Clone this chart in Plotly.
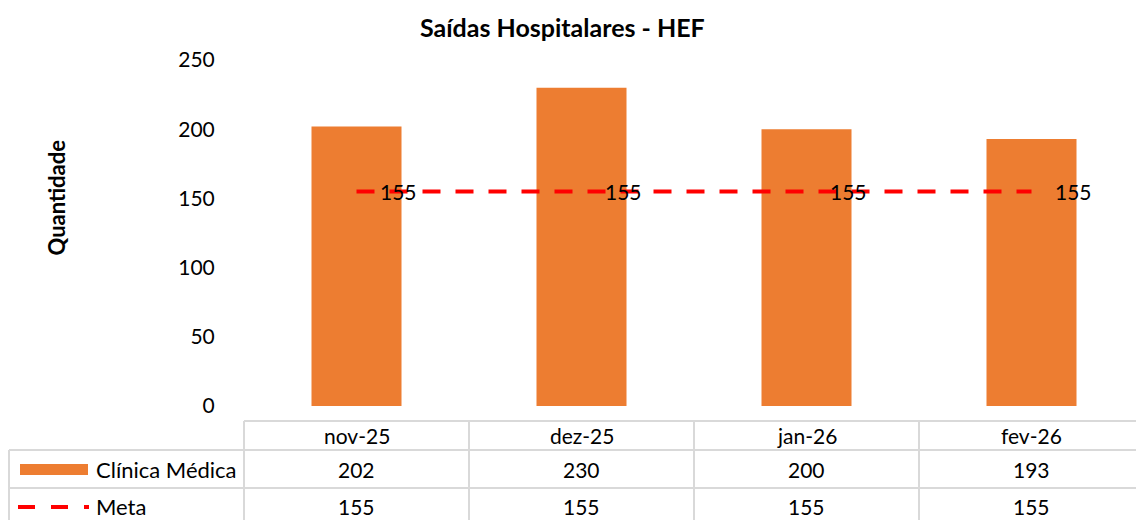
import plotly.graph_objects as go

categories = ["nov-25", "dez-25", "jan-26", "fev-26"]
clinica = [202, 230, 200, 193]
meta = [155, 155, 155, 155]
y_ticks = [0, 50, 100, 150, 200, 250]
series_names = ["Clínica Médica", "Meta"]
title = "Saídas Hospitalares - HEF"
y_title = "Quantidade"

W, H = 1136, 520
ML, MR, MT, MB = 244, 0, 60, 114
FONT = "Lato"
ORANGE = "#ED7D31"
RED = "#FF0000"
GRID = "#D9D9D9"

plot_w = W - ML - MR
plot_h = H - MT - MB
cat_px = 225.0
x0r = -0.5
x1r = x0r + plot_w / cat_px

def px_to_xpaper(px):
    return (px - ML) / plot_w

def py_to_ypaper(py):
    return (H - MB - py) / plot_h

def cat_to_xpaper(k):
    return (k - x0r) / (x1r - x0r)

fig = go.Figure()
fig.add_trace(go.Bar(
    x=categories, y=clinica, name=series_names[0],
    marker=dict(color=ORANGE, line=dict(width=0)), width=0.4,
    showlegend=False, hoverinfo="skip",
))
fig.add_trace(go.Scatter(
    x=categories, y=meta, name=series_names[1], mode="lines",
    line=dict(color=RED, width=4, dash="18px,15px"),
    showlegend=False, hoverinfo="skip",
))

annotations = []
for c, v in zip(categories, meta):
    annotations.append(dict(x=c, y=v, xref="x", yref="y", text=str(v),
                            showarrow=False, xanchor="left", xshift=21,
                            font=dict(family=FONT, size=21, color="black")))

y_top, y_r1, y_r2, y_bot = 421, 450, 488, 540
x_left = 9
shapes = []
line_style = dict(color=GRID, width=2)
shapes.append(dict(type="line", xref="paper", yref="paper",
                   x0=cat_to_xpaper(-0.5), x1=1.0,
                   y0=py_to_ypaper(y_top), y1=py_to_ypaper(y_top), line=line_style))
for yy in (y_r1, y_r2):
    shapes.append(dict(type="line", xref="paper", yref="paper",
                       x0=px_to_xpaper(x_left), x1=1.0,
                       y0=py_to_ypaper(yy), y1=py_to_ypaper(yy), line=line_style))
for k in range(len(categories)):
    xp = cat_to_xpaper(k - 0.5)
    shapes.append(dict(type="line", xref="paper", yref="paper",
                       x0=xp, x1=xp, y0=py_to_ypaper(y_top), y1=py_to_ypaper(y_bot),
                       line=line_style))
shapes.append(dict(type="line", xref="paper", yref="paper",
                   x0=px_to_xpaper(x_left), x1=px_to_xpaper(x_left),
                   y0=py_to_ypaper(y_r1), y1=py_to_ypaper(y_bot), line=line_style))

shapes.append(dict(type="rect", xref="paper", yref="paper",
                   x0=px_to_xpaper(20), x1=px_to_xpaper(88),
                   y0=py_to_ypaper(475), y1=py_to_ypaper(464),
                   fillcolor=ORANGE, line=dict(width=0)))
shapes.append(dict(type="line", xref="paper", yref="paper",
                   x0=px_to_xpaper(18), x1=px_to_xpaper(89),
                   y0=py_to_ypaper(507), y1=py_to_ypaper(507),
                   line=dict(color=RED, width=4, dash="17px,16px")))

row_centers = [436, 469, 507]
TFONT = dict(family=FONT, size=21, color="black")
for c in categories:
    annotations.append(dict(x=c, xref="x", y=py_to_ypaper(row_centers[0]), yref="paper",
                            text=c, showarrow=False, yanchor="middle", font=TFONT))
for vals, yc in ((clinica, row_centers[1]), (meta, row_centers[2])):
    for c, v in zip(categories, vals):
        annotations.append(dict(x=c, xref="x", y=py_to_ypaper(yc), yref="paper",
                                text=str(v), showarrow=False, yanchor="middle", font=TFONT))
for name, yc in zip(series_names, row_centers[1:]):
    annotations.append(dict(x=px_to_xpaper(94), xref="paper", y=py_to_ypaper(yc), yref="paper",
                            text=name, showarrow=False, xanchor="left", yanchor="middle",
                            font=dict(family=FONT, size=22, color="black")))

annotations.append(dict(x=px_to_xpaper(562), xref="paper", y=py_to_ypaper(27), yref="paper",
                        text="<b>" + title + "</b>", showarrow=False, yanchor="middle",
                        font=dict(family=FONT, size=25, color="black")))
annotations.append(dict(x=px_to_xpaper(40), xref="paper", y=py_to_ypaper(198), yref="paper",
                        text="<b>" + y_title + "</b>", showarrow=False, textangle=-90,
                        font=dict(family=FONT, size=22, color="black")))

fig.update_layout(
    width=W, height=H,
    margin=dict(l=ML, r=MR, t=MT, b=MB),
    paper_bgcolor="white", plot_bgcolor="white",
    showlegend=False,
    xaxis=dict(type="category", range=[x0r, x1r], showticklabels=False,
               showgrid=False, zeroline=False, showline=False, ticks=""),
    yaxis=dict(range=[0, 250], tickvals=y_ticks, showgrid=False, zeroline=False,
               showline=False, ticks="outside", ticklen=0, tickcolor="white",
               tickfont=dict(family=FONT, size=21, color="black"), ticklabelstandoff=24),
    shapes=shapes, annotations=annotations,
    bargap=0.6,
)

fig.write_html("out.html", config={"displayModeBar": False},
               post_script="document.body.style.margin='0';document.body.style.overflow='hidden';")
